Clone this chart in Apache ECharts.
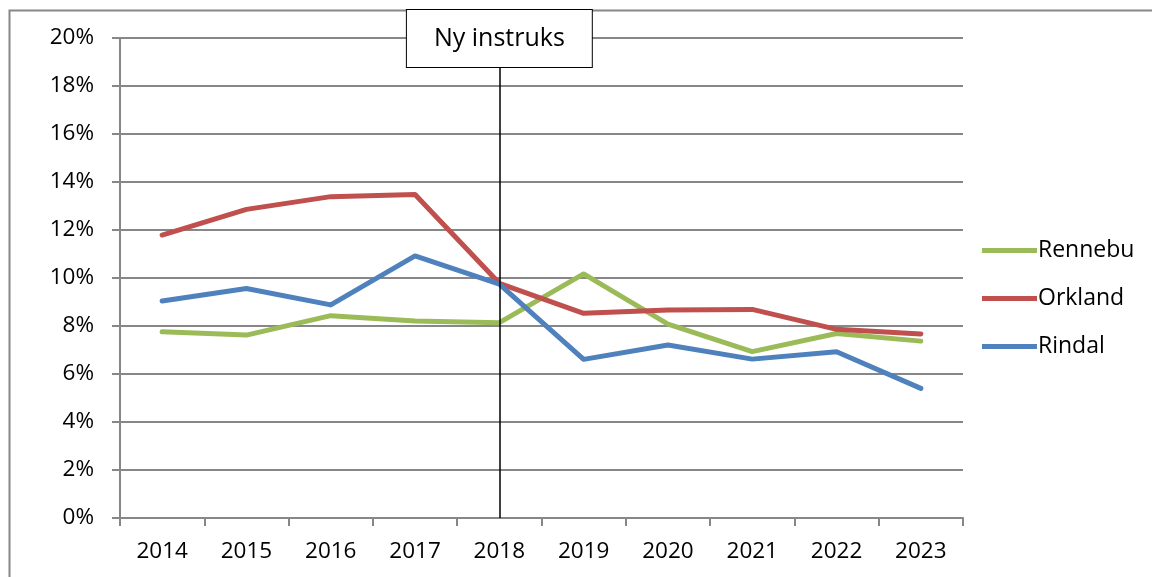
<!DOCTYPE html>
<html lang="no">
<head>
	<meta charset="UTF-8">
	<script src="https://cdn.jsdelivr.net/npm/echarts@6/dist/echarts.min.js"></script>
	<title>Ny instruks</title>
	<style>
		html, body { margin: 0; padding: 0; background: #fff; }
	</style>
</head>
<body>
<div id="chart" style="width: 1152px;height:577px;"></div>
<script type="text/javascript">
	// data
	var years = ['2014', '2015', '2016', '2017', '2018', '2019', '2020', '2021', '2022', '2023'];
	var rennebu = [7.76, 7.62, 8.43, 8.21, 8.14, 10.17, 8.08, 6.93, 7.69, 7.37];
	var orkland = [11.79, 12.86, 13.39, 13.48, 9.78, 8.53, 8.67, 8.69, 7.86, 7.67];
	var rindal = [9.04, 9.56, 8.88, 10.92, 9.74, 6.61, 7.21, 6.62, 6.93, 5.40];
	var markYear = '2018';
	var markText = 'Ny instruks';

	var font = '"Open Sans", "Liberation Sans", sans-serif';
	var gridGray = '#878787';

	var chart = echarts.init(document.getElementById('chart'));

	function lineSeries(name, data, color) {
		return {
			name: name,
			type: 'line',
			data: data,
			symbol: 'none',
			lineStyle: { color: color, width: 5, cap: 'round', join: 'round' },
			itemStyle: { color: color }
		};
	}

	var series = [
		lineSeries('Rennebu', rennebu, '#9BBB59'),
		lineSeries('Orkland', orkland, '#C0504D'),
		lineSeries('Rindal', rindal, '#4F81BD')
	];
	// vertical marker with boxed label
	series[2].markLine = {
		silent: true,
		symbol: 'none',
		lineStyle: { color: '#000', width: 1.5, type: 'solid' },
		label: {
			show: true,
			position: 'end',
			distance: -29,
			formatter: markText,
			fontFamily: font,
			fontSize: 25,
			color: '#000',
			backgroundColor: '#fff',
			borderColor: '#000',
			borderWidth: 1,
			padding: [16, 27, 16, 27]
		},
		data: [{ xAxis: markYear }]
	};

	var option = {
		animation: false,
		backgroundColor: '#fff',
		textStyle: { fontFamily: font },
		grid: { left: 120, right: 189, top: 38, bottom: 59, containLabel: false },
		legend: {
			orient: 'vertical',
			left: 977,
			top: 232,
			icon: 'rect',
			itemWidth: 55,
			itemHeight: 5,
			itemGap: 21,
			data: ['Rennebu', 'Orkland', 'Rindal'],
			textStyle: { fontFamily: font, fontSize: 23, color: '#000', lineHeight: 27, padding: [0, 0, 0, -4] }
		},
		xAxis: {
			type: 'category',
			data: years,
			boundaryGap: true,
			axisLine: { lineStyle: { color: gridGray, width: 2 } },
			axisTick: { show: true, length: 8, lineStyle: { color: gridGray, width: 2 } },
			axisLabel: { fontFamily: font, fontSize: 22.5, color: '#000', margin: 22 },
			splitLine: { show: false }
		},
		yAxis: {
			type: 'value',
			min: 0,
			max: 20,
			interval: 2,
			axisLine: { show: true, lineStyle: { color: gridGray, width: 2 } },
			axisTick: { show: true, length: 8, lineStyle: { color: gridGray, width: 2 } },
			axisLabel: { fontFamily: font, fontSize: 22.5, color: '#000', margin: 26, formatter: '{value}%' },
			splitLine: { show: true, lineStyle: { color: gridGray, width: 2 } }
		},
		graphic: [{
			type: 'rect',
			left: 7,
			top: 8,
			shape: { width: 1300, height: 700 },
			style: { fill: 'none', stroke: gridGray, lineWidth: 2 },
			silent: true,
			z: -1
		}],
		series: series
	};
	chart.setOption(option);
</script>
</body>
</html>
